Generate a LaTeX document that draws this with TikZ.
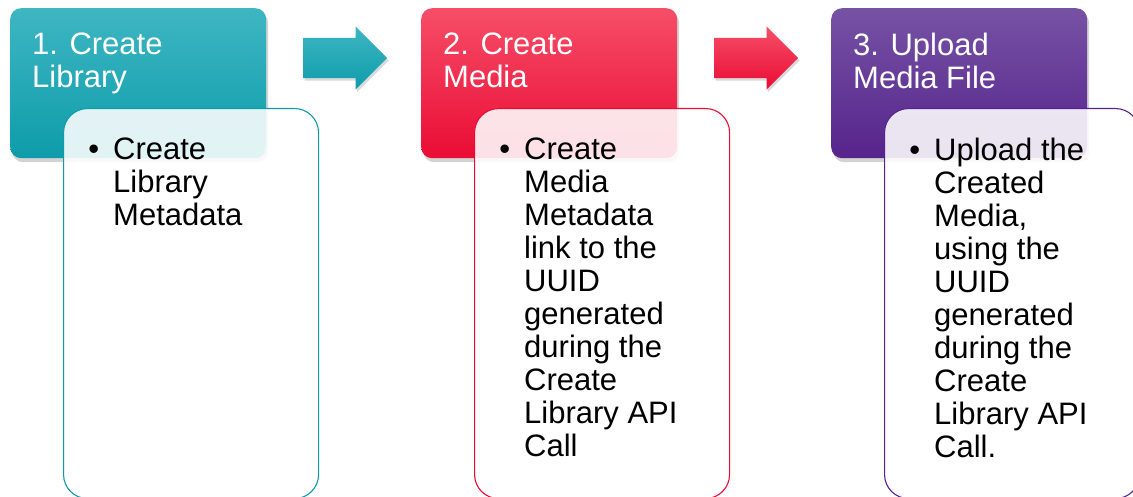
\documentclass[tikz,border=0pt]{standalone}
\usepackage{fontspec}
\setmainfont{Liberation Sans}
\usetikzlibrary{positioning}
\usetikzlibrary{shapes.arrows,shadows}

\definecolor{tealTop}{RGB}{62,182,194}
\definecolor{tealMain}{RGB}{14,156,170}
\definecolor{redTop}{RGB}{246,78,104}
\definecolor{redMain}{RGB}{234,12,52}
\definecolor{purpleTop}{RGB}{118,82,164}
\definecolor{purpleMain}{RGB}{86,36,140}

\tikzset{
  headbox/.style={rectangle, rounded corners=11pt, minimum width=256pt, minimum height=150pt,
    anchor=north west, inner sep=0pt,
    drop shadow={shadow xshift=2pt, shadow yshift=-4pt, opacity=0.35}},
  bodybox/.style={rectangle, rounded corners=24pt, minimum width=255pt, minimum height=390pt,
    anchor=north west, inner sep=0pt, fill=white, fill opacity=0.88, line width=1.1pt},
  headtext/.style={anchor=north west, inner sep=0pt, align=left, text=white,
    font=\fontsize{31}{33}\selectfont},
  bodytext/.style={anchor=north west, inner sep=0pt, align=left, text=black,
    font=\fontsize{31}{33}\selectfont},
  steparrow/.style={single arrow, anchor=tail, minimum height=84pt, inner xsep=0pt, inner ysep=20pt,
    single arrow head extend=11.5pt, single arrow tip angle=90,
    drop shadow={shadow xshift=1.5pt, shadow yshift=-2.5pt, opacity=0.3}}
}

\begin{document}
\begin{tikzpicture}[x=1pt, y=1pt]
    \useasboundingbox (0,0) rectangle (1133,-497);

    % Header boxes
    \node[headbox, top color=tealTop, bottom color=tealMain] (libHead) at (10,-8) {};
    \node[headbox, top color=redTop, bottom color=redMain] (mediaHead) at (421,-8) {};
    \node[headbox, top color=purpleTop, bottom color=purpleMain] (uploadHead) at (831,-8) {};

    \node[headtext] (libTitle) at (32,-33) {1. Create\\Library};
    \node[headtext] (mediaTitle) at (443,-33) {2. Create\\Media};
    \node[headtext] (uploadTitle) at (853,-33) {3. Upload\\Media File};

    % Arrows
    \node[steparrow, top color=tealTop, bottom color=tealMain] (libArrow) at (303,-58) {};
    \node[steparrow, top color=redTop, bottom color=redMain] (mediaArrow) at (714,-58) {};

    % Body boxes
    \node[bodybox, draw=tealMain] (libBody) at (63,-108) {};
    \node[bodybox, draw=redMain] (mediaBody) at (474,-108) {};
    \node[bodybox, draw=purpleMain] (uploadBody) at (884,-108) {};

    \node[bodytext] (libText) at (113,-138)
      {\llap{\textbullet\hspace{14pt}}Create\\Library\\Metadata};
    \node[bodytext] (mediaText) at (524,-138)
      {\llap{\textbullet\hspace{14pt}}Create\\Media\\Metadata\\link to the\\UUID\\generated\\during the\\Create\\Library API\\Call};
    \node[bodytext] (uploadText) at (934,-138)
      {\llap{\textbullet\hspace{14pt}}Upload the\\Created\\Media,\\using the\\UUID\\generated\\during the\\Create\\Library API\\Call.};

\end{tikzpicture}
\end{document}
